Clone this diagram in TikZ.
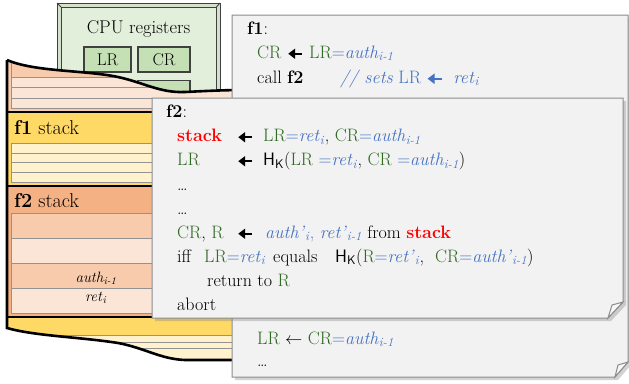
\documentclass[tikz,border=0pt]{standalone}
\usepackage{amsmath,amssymb}
\usepackage{xcolor}
\usepackage{tikz}
\usetikzlibrary{shadows,positioning,calc,arrows.meta}

\definecolor{regGreen}{HTML}{2F6B22}
\definecolor{valBlue}{HTML}{4472C4}
\definecolor{cpuFill}{HTML}{E2EFDA}
\definecolor{cpuBand}{HTML}{D3E2CA}
\definecolor{regFill}{HTML}{C5E0B4}
\definecolor{salmon}{HTML}{F8CBAD}
\definecolor{salmonLight}{HTML}{FBE5D6}
\definecolor{orangeHead}{HTML}{F4B183}
\definecolor{gold}{HTML}{FFD966}
\definecolor{goldLight}{HTML}{FFF2CC}
\definecolor{noteFill}{HTML}{F2F2F2}
\definecolor{noteLine}{HTML}{8C8C8C}

\newcommand{\grn}[1]{\textcolor{regGreen}{#1}}
\newcommand{\blu}[1]{\textcolor{valBlue}{#1}}
\newcommand{\stk}{\textcolor{red}{\textbf{stack}}}
\newcommand{\getsarr}{\tikz[baseline=-0.55ex]\draw[line width=2pt, -{Triangle[length=7pt,width=10pt]}] (14pt,0pt) -- (0pt,0pt);}
\newcommand{\Hk}{\textsf{H}\textsubscript{\textsf{K}}}
\newcommand{\ital}[2]{\textit{#1}\textsubscript{\textit{#2}}}

\begin{document}
\begin{tikzpicture}[x=1pt, y=-1pt,
    cpuline/.style={draw=black!75, line width=0.9pt},
    regbox/.style={draw=black!75, line width=1.2pt, fill=regFill, inner sep=0pt,
        font=\fontsize{17}{20}\selectfont},
    stackcell/.style={draw=gray!85, line width=0.6pt},
    blackrule/.style={line width=2.6pt},
    stacklabel/.style={anchor=base west, inner sep=0pt, font=\fontsize{20}{24}\selectfont},
    slotlabel/.style={anchor=base, inner sep=0pt, font=\fontsize{15}{18}\selectfont},
    notebox/.style={fill=noteFill, draw=noteLine, line width=1pt,
        drop shadow={shadow xshift=3pt, shadow yshift=-3pt, opacity=.35}},
    fold/.style={fill=noteFill!70!white, draw=noteLine, line width=1pt},
    codeline/.style={anchor=base west, inner sep=0pt, font=\fontsize{18}{22}\selectfont}]
    \useasboundingbox (0,0) rectangle (629,383);

    % CPU registers
    \fill[cpuBand] (57,3) rectangle (220,120);
    \fill[cpuFill] (61.5,7.5) rectangle (216,120);
    \draw[cpuline] (57,120) -- (57,3) -- (220,3) -- (220,120);
    \draw[cpuline] (61.5,120) -- (61.5,7.5) -- (216,7.5) -- (216,120);
    \draw[cpuline] (57,3) -- (61.5,7.5) (220,3) -- (216,7.5);
    \node[anchor=base, inner sep=0pt, font=\fontsize{18.5}{22}\selectfont] (cpu) at (138.5,33) {CPU registers};
    \node[regbox, minimum width=47pt, minimum height=25pt] (lr) at (107.5,59.5) {LR};
    \node[regbox, minimum width=52pt, minimum height=25pt] (cr) at (164,59.5) {CR};
    \node[regbox, minimum width=47pt, minimum height=25pt] (lr2) at (107.5,93) {};
    \node[regbox, minimum width=52pt, minimum height=25pt] (cr2) at (164,93) {};

    % stack
    \begin{scope}
        \clip (7,60) .. controls (35,72) and (85,70) .. (118,77) .. controls (145,83) and (160,93) .. (185,92)
            .. controls (205,91) and (225,90) .. (245,90) -- (245,360) -- (185,360)
            .. controls (160,359) and (145,348) .. (118,343) .. controls (80,337) and (35,336) .. (7,328) -- cycle;
        \fill[salmon] (7,50) rectangle (245,112);
        \draw[stackcell, fill=salmon] (11,55) rectangle (245,77);
        \foreach \ya/\yb in {77/87,87/98,98/108}
            \draw[stackcell, fill=salmonLight] (11,\ya) rectangle (245,\yb);
        \draw[blackrule] (7,112) -- (245,112);
        \fill[gold] (7,113) rectangle (245,185);
        \foreach \ya/\yb in {143/153,153/162,162/172,172/182}
            \draw[stackcell, fill=goldLight] (11,\ya) rectangle (245,\yb);
        \draw[blackrule] (7,186) -- (245,186);
        \fill[orangeHead] (7,187) rectangle (245,316);
        \foreach \ya/\yb/\c in {213/238/salmon,238/263/salmonLight,263/288/salmon,288/313/salmonLight}
            \draw[stackcell, fill=\c] (11,\ya) rectangle (245,\yb);
        \draw[blackrule] (7,317) -- (245,317);
        \fill[gold] (7,318) rectangle (245,370);
        \foreach \ya/\yb in {335/342,342/348,348/372}
            \draw[stackcell, fill=goldLight] (11,\ya) rectangle (245,\yb);
    \end{scope}
    \draw[blackrule] (7,60) .. controls (35,72) and (85,70) .. (118,77) .. controls (145,83) and (160,93) .. (185,92)
        .. controls (205,91) and (225,90) .. (245,90);
    \draw[blackrule] (7,60) -- (7,328) .. controls (35,336) and (80,337) .. (118,343)
        .. controls (145,348) and (160,359) .. (185,360) -- (245,360);
    \node[stacklabel] (f1stack) at (14,134) {\textbf{f1} stack};
    \node[stacklabel] (f2stack) at (14,207) {\textbf{f2} stack};
    \node[slotlabel] (auth) at (96,282) {\ital{auth}{i-1}};
    \node[slotlabel] (ret) at (96,301) {\ital{ret}{i}};

    % f1 code
    \path[notebox] (232,15) -- (628,15) -- (628,362) -- (615,377) -- (232,377) -- cycle;
    \path[fold] (615,377) -- (618,365) -- (628,362) -- cycle;
    \node[codeline] (f1-head) at (247,34) {\textbf{f1}:};
    \node[codeline] (f1-a) at (257,58) {\makebox[30pt][l]{\grn{CR}}\makebox[22pt][l]{\getsarr}\grn{LR}\blu{=\ital{auth}{i-1}}};
    \node[codeline] (f1-b) at (257,83) {\makebox[83pt][l]{call \textbf{f2}}\blu{\textit{// sets} LR \getsarr\ \ \ital{ret}{i}}};
    \node[codeline] (f1-c) at (257,344) {\grn{LR} $\leftarrow$ \grn{CR}\blu{=\ital{auth}{i-1}}};
    \node[codeline] (f1-d) at (257,366) {\dots};

    % f2 code
    \path[notebox] (152,98) -- (623,98) -- (623,302) -- (608,318) -- (152,318) -- cycle;
    \path[fold] (608,318) -- (612,305) -- (623,302) -- cycle;
    \node[codeline] (f2-head) at (166,117) {\textbf{f2}:};
    \node[codeline] (f2-a) at (177,141.5) {\makebox[60pt][l]{\stk}\makebox[26pt][l]{\getsarr}\grn{LR}\blu{=\ital{ret}{i}}, \grn{CR}\blu{=\ital{auth}{i-1}}};
    \node[codeline] (f2-b) at (177,165.5) {\makebox[60pt][l]{\grn{LR}}\makebox[26pt][l]{\getsarr}\Hk(\grn{LR} \blu{=\ital{ret}{i}}, \grn{CR} \blu{=\ital{auth}{i-1}})};
    \node[codeline] (f2-c) at (177,190) {\dots};
    \node[codeline] (f2-d) at (177,214) {\dots};
    \node[codeline] (f2-e) at (177,238) {\makebox[60pt][l]{\grn{CR}, \grn{R}}\makebox[28pt][l]{\getsarr}\blu{\ital{auth'}{i}, \ital{ret'}{i-1}} from \stk};
    \node[codeline] (f2-f) at (177,262) {\makebox[27pt][l]{iff}\makebox[69pt][l]{\grn{LR}\blu{=\ital{ret}{i}}}\makebox[62pt][l]{equals}\Hk(\grn{R}\blu{=\ital{ret'}{i}}, \ \grn{CR}\blu{=\ital{auth'}{i-1}})};
    \node[codeline] (f2-g) at (207,286) {return to \grn{R}};
    \node[codeline] (f2-h) at (177,310) {abort};
\end{tikzpicture}
\end{document}
